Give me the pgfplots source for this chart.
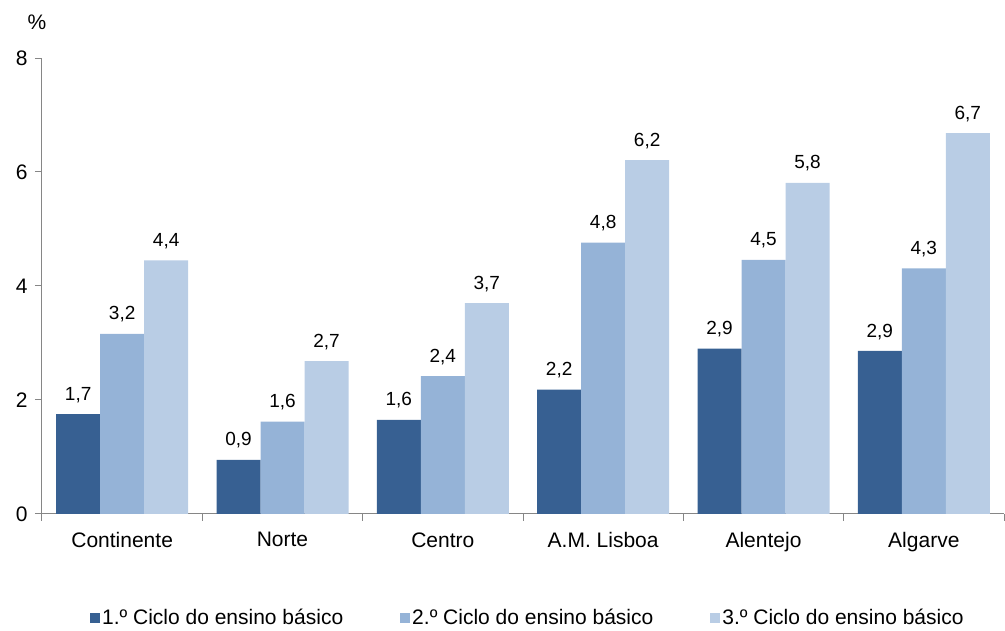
\documentclass[border=0pt]{standalone}
\usepackage{pgfplots}
\pgfplotsset{compat=1.18}
\usepackage{pgfplotstable}
\usepackage{fontspec}
\setmainfont{Liberation Sans}

\definecolor{cum}{HTML}{376092}
\definecolor{cdois}{HTML}{95B3D7}
\definecolor{ctres}{HTML}{B9CDE5}
\definecolor{eixo}{HTML}{868686}

% x = region (0 Continente ... 5 Algarve), y = value, lab = printed label
\pgfplotstableread{
x y lab
0 1.75 1,7
1 0.95 0,9
2 1.65 1,6
3 2.18 2,2
4 2.90 2,9
5 2.86 2,9
}\cicloum
\pgfplotstableread{
x y lab
0 3.16 3,2
1 1.62 1,6
2 2.42 2,4
3 4.76 4,8
4 4.46 4,5
5 4.31 4,3
}\ciclodois
\pgfplotstableread{
x y lab
0 4.45 4,4
1 2.68 2,7
2 3.70 3,7
3 6.21 6,2
4 5.81 5,8
5 6.68 6,7
}\ciclotres

\begin{document}
\begin{tikzpicture}
\begin{axis}[
  scale only axis,
  width=962pt, height=456pt,
  at={(0,0)}, anchor=south west,
  ybar=0pt, bar width=44pt,
  xmin=-0.5, xmax=5.5,
  ymin=0, ymax=8,
  axis lines=left,
  axis line style={-, eixo, line width=1pt},
  xtick={0,...,5},
  xticklabels={Continente, Norte, Centro, A.M. Lisboa, Alentejo, Algarve},
  minor xtick={-0.5,0.5,...,5.5},
  ytick={0,2,4,6,8},
  tick align=outside,
  major x tick style={draw=none},
  minor tick length=7pt,
  major tick length=7pt,
  tick style={eixo, line width=1pt},
  ticklabel style={font=\fontsize{21}{25}\selectfont},
  xticklabel style={yshift=-8pt},
  yticklabel style={xshift=-4pt},
  /pgf/number format/assume math mode=true,
  point meta=explicit symbolic,
  nodes near coords,
  every node near coord/.append style={font=\fontsize{19}{22}\selectfont, black, yshift=8pt},
  clip=false,
  legend columns=3,
  legend style={draw=none, at={(0.505,-0.228)}, anchor=center,
    font=\fontsize{21}{25}\selectfont,
    /tikz/every even column/.append style={column sep=55pt}},
  legend cell align=left,
  legend image code/.code={\fill[#1] (0pt,-5pt) rectangle (10pt,5pt);},
]
\addplot[fill=cum, draw=none] table[x=x, y=y, meta=lab] {\cicloum};
\addplot[fill=cdois, draw=none] table[x=x, y=y, meta=lab] {\ciclodois};
\addplot[fill=ctres, draw=none] table[x=x, y=y, meta=lab] {\ciclotres};
\legend{1.º Ciclo do ensino básico, 2.º Ciclo do ensino básico, 3.º Ciclo do ensino básico}
\node[font=\fontsize{21}{25}\selectfont] at ([xshift=-5pt, yshift=36pt]rel axis cs:0,1) {\%};
\end{axis}
\path (-42pt,-114pt) rectangle (963pt,514pt);
\end{tikzpicture}
\end{document}
